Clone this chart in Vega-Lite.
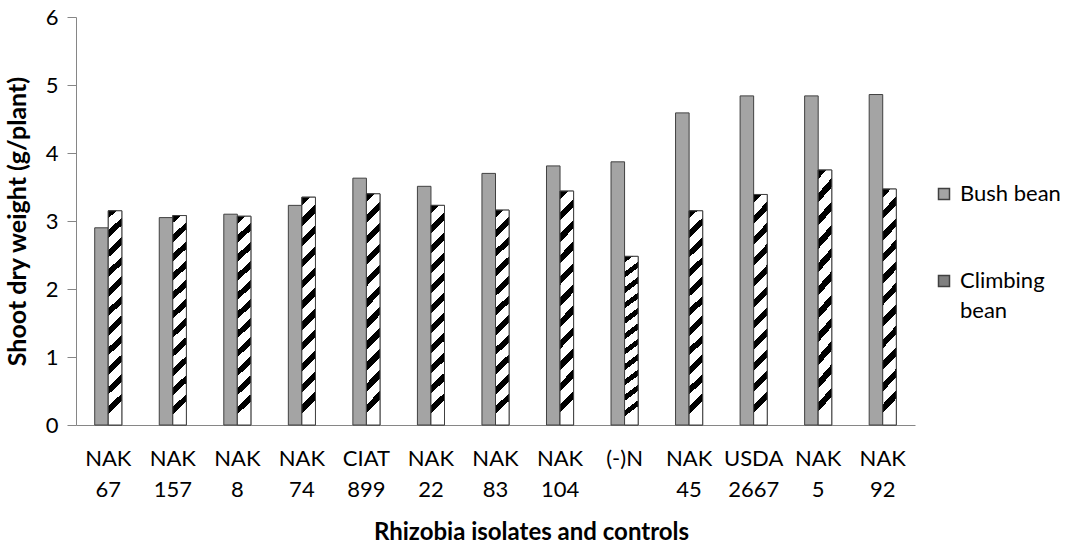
{
  "$schema": "https://vega.github.io/schema/vega-lite/v6.json",
  "width": 839,
  "height": 408,
  "autosize": "none",
  "padding": {"left": 76, "top": 17, "right": 159, "bottom": 119},
  "config": {
    "view": {"stroke": null},
    "font": "Lato",
    "style": {"guide-label": {"lineHeight": 30}},
    "axis": {
      "domainColor": "#868686",
      "tickColor": "#868686",
      "labelColor": "#000000",
      "titleColor": "#000000",
      "labelFont": "Lato",
      "titleFont": "Lato",
      "labelFontSize": 22,
      "titleFontSize": 24,
      "titleFontWeight": "bold",
      "grid": false
    }
  },
  "data": {
    "values": [
      {"isolate": "NAK 67", "bean": "Bush bean", "weight": 2.9},
      {"isolate": "NAK 67", "bean": "Climbing bean", "weight": 3.15},
      {"isolate": "NAK 157", "bean": "Bush bean", "weight": 3.05},
      {"isolate": "NAK 157", "bean": "Climbing bean", "weight": 3.08},
      {"isolate": "NAK 8", "bean": "Bush bean", "weight": 3.1},
      {"isolate": "NAK 8", "bean": "Climbing bean", "weight": 3.07},
      {"isolate": "NAK 74", "bean": "Bush bean", "weight": 3.23},
      {"isolate": "NAK 74", "bean": "Climbing bean", "weight": 3.35},
      {"isolate": "CIAT 899", "bean": "Bush bean", "weight": 3.63},
      {"isolate": "CIAT 899", "bean": "Climbing bean", "weight": 3.4},
      {"isolate": "NAK 22", "bean": "Bush bean", "weight": 3.51},
      {"isolate": "NAK 22", "bean": "Climbing bean", "weight": 3.23},
      {"isolate": "NAK 83", "bean": "Bush bean", "weight": 3.7},
      {"isolate": "NAK 83", "bean": "Climbing bean", "weight": 3.16},
      {"isolate": "NAK 104", "bean": "Bush bean", "weight": 3.81},
      {"isolate": "NAK 104", "bean": "Climbing bean", "weight": 3.44},
      {"isolate": "(-)N", "bean": "Bush bean", "weight": 3.87},
      {"isolate": "(-)N", "bean": "Climbing bean", "weight": 2.48},
      {"isolate": "NAK 45", "bean": "Bush bean", "weight": 4.59},
      {"isolate": "NAK 45", "bean": "Climbing bean", "weight": 3.15},
      {"isolate": "USDA 2667", "bean": "Bush bean", "weight": 4.84},
      {"isolate": "USDA 2667", "bean": "Climbing bean", "weight": 3.39},
      {"isolate": "NAK 5", "bean": "Bush bean", "weight": 4.84},
      {"isolate": "NAK 5", "bean": "Climbing bean", "weight": 3.75},
      {"isolate": "NAK 92", "bean": "Bush bean", "weight": 4.86},
      {"isolate": "NAK 92", "bean": "Climbing bean", "weight": 3.47}
    ]
  },
  "encoding": {
    "x": {
      "field": "isolate",
      "type": "nominal",
      "sort": null,
      "scale": {"paddingInner": 0.58, "paddingOuter": 0.29},
      "axis": {
        "title": "Rhizobia isolates and controls",
        "labelAngle": 0,
        "ticks": false,
        "labelExpr": "split(datum.label, ' ')",
        "labelPadding": 23,
        "labelLineHeight": 31,
        "labelBaseline": "top",
        "titlePadding": 20,
        "titleX": 455
      }
    },
    "xOffset": {"field": "bean", "type": "nominal", "sort": ["Bush bean", "Climbing bean"]},
    "y": {
      "field": "weight",
      "type": "quantitative",
      "scale": {"domain": [0, 6], "nice": false},
      "axis": {
        "title": "Shoot dry weight (g/plant)",
        "titleFontSize": 25,
        "values": [0, 1, 2, 3, 4, 5, 6],
        "tickSize": 9,
        "labelPadding": 9,
        "titlePadding": 15
      }
    }
  },
  "layer": [
    {
      "mark": {"type": "bar", "stroke": "#404040", "strokeWidth": 1},
      "encoding": {
        "color": {
          "field": "bean",
          "type": "nominal",
          "scale": {"domain": ["Bush bean", "Climbing bean"], "range": ["#a4a4a4", "#808080"]},
          "legend": {
            "title": null,
            "orient": "none",
            "legendX": 857,
            "legendY": 166,
            "padding": 0,
            "symbolType": "square",
            "symbolSize": 121,
            "labelFont": "Lato",
            "labelFontSize": 22,
            "labelColor": "#000000",
            "labelOffset": 5,
            "labelBaseline": "middle",
            "rowPadding": 65,
            "labelExpr": "datum.label == 'Climbing bean' ? ['Climbing', 'bean'] : datum.label",
            "encode": {
              "symbols": {
                "fill": {
                  "condition": {
                    "test": "datum.value == 'Climbing bean'",
                    "value": {
                      "gradient": "linear",
                      "x1": 0, "y1": 1, "x2": 1, "y2": 0,
                      "stops": [
                        {"offset": 0, "color": "#000000"}, {"offset": 0.5, "color": "#000000"},
                        {"offset": 0.5, "color": "#ffffff"}, {"offset": 1, "color": "#ffffff"}
                      ]
                    }
                  },
                  "value": "#a4a4a4"
                },
                "stroke": {"value": "#404040"},
                "strokeWidth": {"value": 1},
                "opacity": {"value": 1}
              }
            }
          }
        }
      }
    },
    {
      "transform": [{"filter": "datum.bean == 'Climbing bean'"}],
      "mark": {
        "type": "bar",
        "stroke": "#404040",
        "strokeWidth": 1,
        "fill": {
          "gradient": "linear",
          "x1": 0, "y1": 0, "x2": 0.06, "y2": 1,
          "stops": [
            {"offset": 0, "color": "#000000"}, {"offset": 0.036, "color": "#000000"}, {"offset": 0.036, "color": "#ffffff"}, {"offset": 0.0909, "color": "#ffffff"},
            {"offset": 0.0909, "color": "#000000"}, {"offset": 0.127, "color": "#000000"}, {"offset": 0.127, "color": "#ffffff"}, {"offset": 0.1818, "color": "#ffffff"},
            {"offset": 0.1818, "color": "#000000"}, {"offset": 0.218, "color": "#000000"}, {"offset": 0.218, "color": "#ffffff"}, {"offset": 0.2727, "color": "#ffffff"},
            {"offset": 0.2727, "color": "#000000"}, {"offset": 0.309, "color": "#000000"}, {"offset": 0.309, "color": "#ffffff"}, {"offset": 0.3636, "color": "#ffffff"},
            {"offset": 0.3636, "color": "#000000"}, {"offset": 0.4, "color": "#000000"}, {"offset": 0.4, "color": "#ffffff"}, {"offset": 0.4545, "color": "#ffffff"},
            {"offset": 0.4545, "color": "#000000"}, {"offset": 0.491, "color": "#000000"}, {"offset": 0.491, "color": "#ffffff"}, {"offset": 0.5455, "color": "#ffffff"},
            {"offset": 0.5455, "color": "#000000"}, {"offset": 0.582, "color": "#000000"}, {"offset": 0.582, "color": "#ffffff"}, {"offset": 0.6364, "color": "#ffffff"},
            {"offset": 0.6364, "color": "#000000"}, {"offset": 0.673, "color": "#000000"}, {"offset": 0.673, "color": "#ffffff"}, {"offset": 0.7273, "color": "#ffffff"},
            {"offset": 0.7273, "color": "#000000"}, {"offset": 0.764, "color": "#000000"}, {"offset": 0.764, "color": "#ffffff"}, {"offset": 0.8182, "color": "#ffffff"},
            {"offset": 0.8182, "color": "#000000"}, {"offset": 0.855, "color": "#000000"}, {"offset": 0.855, "color": "#ffffff"}, {"offset": 0.9091, "color": "#ffffff"},
            {"offset": 0.9091, "color": "#000000"}, {"offset": 0.945, "color": "#000000"}, {"offset": 0.945, "color": "#ffffff"}, {"offset": 1, "color": "#ffffff"}
          ]
        }
      }
    }
  ]
}
